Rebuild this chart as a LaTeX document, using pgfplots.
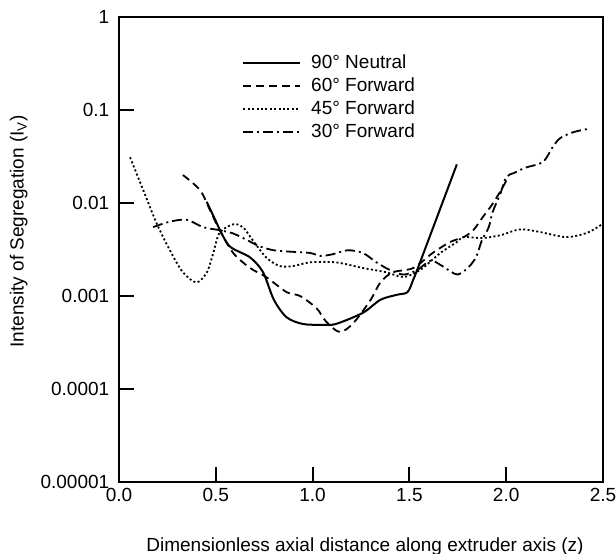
\documentclass[border=0pt]{standalone}
\usepackage{fontspec}
\setmainfont{Liberation Sans}
\usepackage{pgfplots}
\pgfplotsset{compat=1.18}
\usetikzlibrary{calc}

\begin{document}
\fontsize{9.5}{11.5}\selectfont
\begin{tikzpicture}
\begin{axis}[
  name=ax,
  width=242pt, height=232.5pt,
  scale only axis,
  xmin=0, xmax=2.5,
  ymode=log, ymin=1e-5, ymax=1,
  axis lines=box,
  tick style={line width=1pt, black},
  minor tick style={draw=none},
  tick align=inside,
  major tick length=7.5pt,
  xtick pos=bottom, ytick pos=left,
  xtick={0,0.5,1,1.5,2,2.5},
  xticklabels={0.0,0.5,1.0,1.5,2.0,2.5},
  ytick={1e-5,1e-4,1e-3,1e-2,1e-1,1},
  yticklabels={0.00001,0.0001,0.001,0.01,0.1,1},
  /pgf/number format/assume math mode=true,
  ticklabel style={font=\fontsize{9.5}{11.5}\selectfont},
  yticklabel style={xshift=-1.5pt},
  xlabel={Dimensionless axial distance along extruder axis (z)},
  ylabel={Intensity of Segregation (I\textsubscript{V})},
  xlabel style={yshift=-11pt, xshift=2pt},
  ylabel style={at={(ticklabel cs:0.535)}, xshift=1pt},
  legend style={draw=none, fill=none, at={(0.254,0.925)}, anchor=north west,
    nodes={inner sep=1pt, text height=7pt, text depth=2pt},
    row sep=0.5pt, column sep=4pt, inner sep=0pt},
  legend cell align=left,
  legend image code/.code={\draw[#1] (0cm,0cm) -- (1cm,0cm);},
  after end axis/.code={\draw[line width=1pt, black] (rel axis cs:0,0) rectangle (rel axis cs:1,1);},
]
% 90 deg neutral
\addplot[black, line width=1pt, smooth, tension=0.5] coordinates {
(0.453,0.0103)(0.50,0.0064)(0.522,0.0051)(0.573,0.0034)(0.677,0.0026)
(0.744,0.0018)(0.80,0.00091)(0.866,0.00059)(0.95,0.0005)(1.05,0.00049)
(1.12,0.0005)(1.26,0.00066)(1.35,0.00091)(1.435,0.00103)(1.49,0.0011)
(1.52,0.0015)(1.555,0.0023)(1.745,0.026)
};
\addlegendentry{90° Neutral}
% 60 deg forward
\addplot[black, line width=0.9pt, dash pattern=on 4pt off 2.5pt, smooth, tension=0.5] coordinates {
(0.33,0.020)(0.418,0.0138)(0.47,0.0084)(0.52,0.0051)(0.59,0.0029)
(0.677,0.002)(0.76,0.0016)(0.866,0.0011)(0.935,0.001)(1.02,0.00074)
(1.07,0.00053)(1.14,0.00041)(1.21,0.00051)(1.30,0.00091)(1.35,0.0014)
(1.415,0.0018)(1.52,0.002)(1.62,0.0029)(1.71,0.0038)(1.78,0.0043)
(1.83,0.0051)(1.88,0.0071)(1.93,0.0098)(1.98,0.0145)(2.01,0.019)
};
\addlegendentry{60° Forward}
% 45 deg forward
\addplot[black, line width=0.9pt, dash pattern=on 1pt off 1.2pt, smooth, tension=0.5] coordinates {
(0.057,0.031)(0.125,0.0138)(0.195,0.006)(0.263,0.0031)(0.33,0.0018)
(0.40,0.0014)(0.454,0.0018)(0.487,0.0029)(0.52,0.0048)(0.59,0.0059)
(0.64,0.0055)(0.69,0.004)(0.76,0.0026)(0.83,0.0021)(0.90,0.0021)
(0.987,0.0023)(1.12,0.0023)(1.26,0.002)(1.38,0.0018)(1.47,0.0016)
(1.555,0.0019)(1.66,0.0029)(1.745,0.0038)(1.78,0.0043)(1.875,0.0042)
(1.97,0.0045)(2.07,0.0052)(2.17,0.0049)(2.31,0.0043)(2.42,0.0048)
(2.5,0.006)
};
\addlegendentry{45° Forward}
% 30 deg forward
\addplot[black, line width=0.9pt, dash pattern=on 5pt off 2pt on 1pt off 2pt, smooth, tension=0.5] coordinates {
(0.176,0.0055)(0.263,0.0063)(0.35,0.0066)(0.434,0.0055)(0.52,0.0051)
(0.59,0.0047)(0.66,0.004)(0.73,0.0034)(0.80,0.0031)(0.88,0.003)
(0.987,0.0029)(1.04,0.0027)(1.1,0.0028)(1.18,0.0031)(1.26,0.0029)
(1.33,0.0023)(1.40,0.0019)(1.47,0.0017)(1.54,0.0019)(1.61,0.0024)
(1.67,0.0021)(1.75,0.0017)(1.82,0.0022)(1.85,0.0028)(1.875,0.004)
(1.91,0.0055)(1.93,0.008)(1.97,0.0126)(2.0,0.019)(2.04,0.021)
(2.1,0.024)(2.19,0.0276)(2.24,0.04)(2.28,0.05)(2.35,0.058)(2.43,0.063)
};
\addlegendentry{30° Forward}
\end{axis}
\pgfresetboundingbox
\path ($(ax.south west)+(-59.5pt,-36pt)$) rectangle ($(ax.north east)+(6.5pt,8.5pt)$);
\end{tikzpicture}
\end{document}
